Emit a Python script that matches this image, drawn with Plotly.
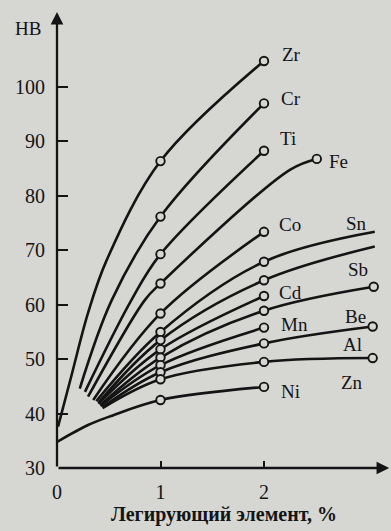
import plotly.graph_objects as go

# ---- data ----
ELEMENTS = ["Zr", "Cr", "Ti", "Fe", "Co", "Sn", "Sb", "Cd", "Be", "Mn", "Al", "Zn", "Ni"]

ZR_X = [0.01, 0.14, 0.30, 0.48, 1.0, 2.0]
ZR_HB = [37.6, 47.0, 58.5, 68.2, 86.4, 104.8]
CR_X = [0.22, 0.53, 1.0, 2.0]
CR_HB = [44.6, 60.9, 76.2, 97.0]
TI_X = [0.27, 0.72, 1.0, 2.0]
TI_HB = [44.0, 60.9, 69.3, 88.3]
FE_X = [0.30, 0.85, 1.0, 2.25, 2.51]
FE_HB = [43.1, 60.9, 63.9, 84.8, 86.8]
CO_X = [0.35, 1.0, 2.0]
CO_HB = [42.5, 58.4, 73.4]
SN_X = [0.38, 1.0, 2.0, 3.07]
SN_HB = [42.3, 55.0, 67.9, 73.4]
SB_X = [0.40, 1.0, 2.0, 3.07]
SB_HB = [42.0, 53.5, 64.5, 70.7]
CD_X = [0.40, 1.0, 2.0]
CD_HB = [41.8, 51.8, 61.6]
BE_X = [0.42, 1.0, 2.0, 3.06]
BE_HB = [41.6, 50.3, 58.9, 63.3]
MN_X = [0.42, 1.0, 2.0]
MN_HB = [41.4, 48.9, 55.8]
AL_X = [0.44, 1.0, 2.0, 3.05]
AL_HB = [41.2, 47.6, 52.9, 56.0]
ZN_X = [0.44, 1.0, 2.0, 3.05]
ZN_HB = [41.0, 46.3, 49.5, 50.2]
NI_X = [0.0, 0.3, 0.5, 1.0, 2.0]
NI_HB = [34.8, 37.9, 39.4, 42.5, 44.9]

SERIES = {
    "Zr": (ZR_X, ZR_HB), "Cr": (CR_X, CR_HB), "Ti": (TI_X, TI_HB),
    "Fe": (FE_X, FE_HB), "Co": (CO_X, CO_HB), "Sn": (SN_X, SN_HB),
    "Sb": (SB_X, SB_HB), "Cd": (CD_X, CD_HB), "Be": (BE_X, BE_HB),
    "Mn": (MN_X, MN_HB), "Al": (AL_X, AL_HB), "Zn": (ZN_X, ZN_HB),
    "Ni": (NI_X, NI_HB),
}
END_MARKED = {"Zr", "Cr", "Ti", "Fe", "Co", "Cd", "Be", "Mn", "Al", "Zn", "Ni"}

Y_TICKS = [30, 40, 50, 60, 70, 80, 90, 100]
X_TICKS = [0, 1, 2]
Y_TITLE = "HB"
X_TITLE = "Легирующий элемент, %"

# label offsets (pixels) relative to each curve's last point
LABEL_SHIFT = {
    "Zr": (27, 6), "Cr": (27, 5), "Ti": (24, 12), "Fe": (22, -3),
    "Co": (26, 7), "Sn": (-18, 8), "Sb": (-17, -23), "Cd": (26, 4),
    "Be": (-18, -30), "Mn": (30, 3), "Al": (-20, -18), "Zn": (-21, -24),
    "Ni": (26, -5),
}

BG = "#d6d6d3"
INK = "#141414"
FONT = "Liberation Serif"

fig = go.Figure()
for name in ELEMENTS:
    xs, ys = SERIES[name]
    fig.add_trace(go.Scatter(x=xs, y=ys, mode="lines",
                             line=dict(color=INK, width=2.6, shape="spline", smoothing=1.0),
                             hoverinfo="skip", showlegend=False))
for name in ELEMENTS:
    xs, ys = SERIES[name]
    mx, my = [], []
    for i, (x, y) in enumerate(zip(xs, ys)):
        last = i == len(xs) - 1
        if x in (1.0, 2.0) or (last and name in END_MARKED):
            mx.append(x)
            my.append(y)
    fig.add_trace(go.Scatter(x=mx, y=my, mode="markers",
                             marker=dict(size=8.5, color=BG, line=dict(color=INK, width=1.9)),
                             hoverinfo="skip", showlegend=False))
    dx, dy = LABEL_SHIFT[name]
    fig.add_annotation(x=xs[-1], y=ys[-1], text=name, showarrow=False,
                       xshift=dx, yshift=dy,
                       font=dict(family=FONT, size=19, color=INK))

# axes with arrows
fig.add_annotation(x=0, y=113.8, ax=0, ay=30, xref="x", yref="y", axref="x", ayref="y",
                   text="", showarrow=True, arrowhead=2, arrowsize=1.1, arrowwidth=2.3,
                   arrowcolor=INK)
fig.add_annotation(x=3.21, y=30, ax=0, ay=30, xref="x", yref="y", axref="x", ayref="y",
                   text="", showarrow=True, arrowhead=2, arrowsize=1.1, arrowwidth=2.3,
                   arrowcolor=INK)
fig.add_annotation(x=0, y=110.8, xref="x", yref="y", text=Y_TITLE, showarrow=False,
                   xshift=-29, font=dict(family=FONT, size=19, color=INK))

fig.update_xaxes(range=[0, 3.227], tickvals=X_TICKS, ticktext=[str(v) for v in X_TICKS],
                 ticks="inside", ticklen=7, tickwidth=2, tickcolor=INK,
                 showgrid=False, zeroline=False, showline=False, automargin=False,
                 ticklabelstandoff=10,
                 tickfont=dict(family=FONT, size=20, color=INK),
                 title=dict(text=X_TITLE, standoff=4,
                            font=dict(family=FONT, size=20, color=INK, weight="bold")))
fig.update_yaxes(range=[30, 116], tickvals=Y_TICKS, ticktext=[str(v) for v in Y_TICKS],
                 ticks="inside", ticklen=11, tickwidth=2, tickcolor=INK,
                 showgrid=False, zeroline=False, showline=False, automargin=False,
                 ticklabelstandoff=11,
                 tickfont=dict(family=FONT, size=20, color=INK))
fig.update_layout(width=391, height=531, margin=dict(l=57, r=0, t=0, b=63),
                  paper_bgcolor=BG, plot_bgcolor=BG, showlegend=False)
fig.write_html("out.html", config={"displayModeBar": False},
               post_script="document.body.style.margin='0';"
                           "document.body.style.background='" + BG + "';"
                           "document.body.style.overflow='hidden';")
